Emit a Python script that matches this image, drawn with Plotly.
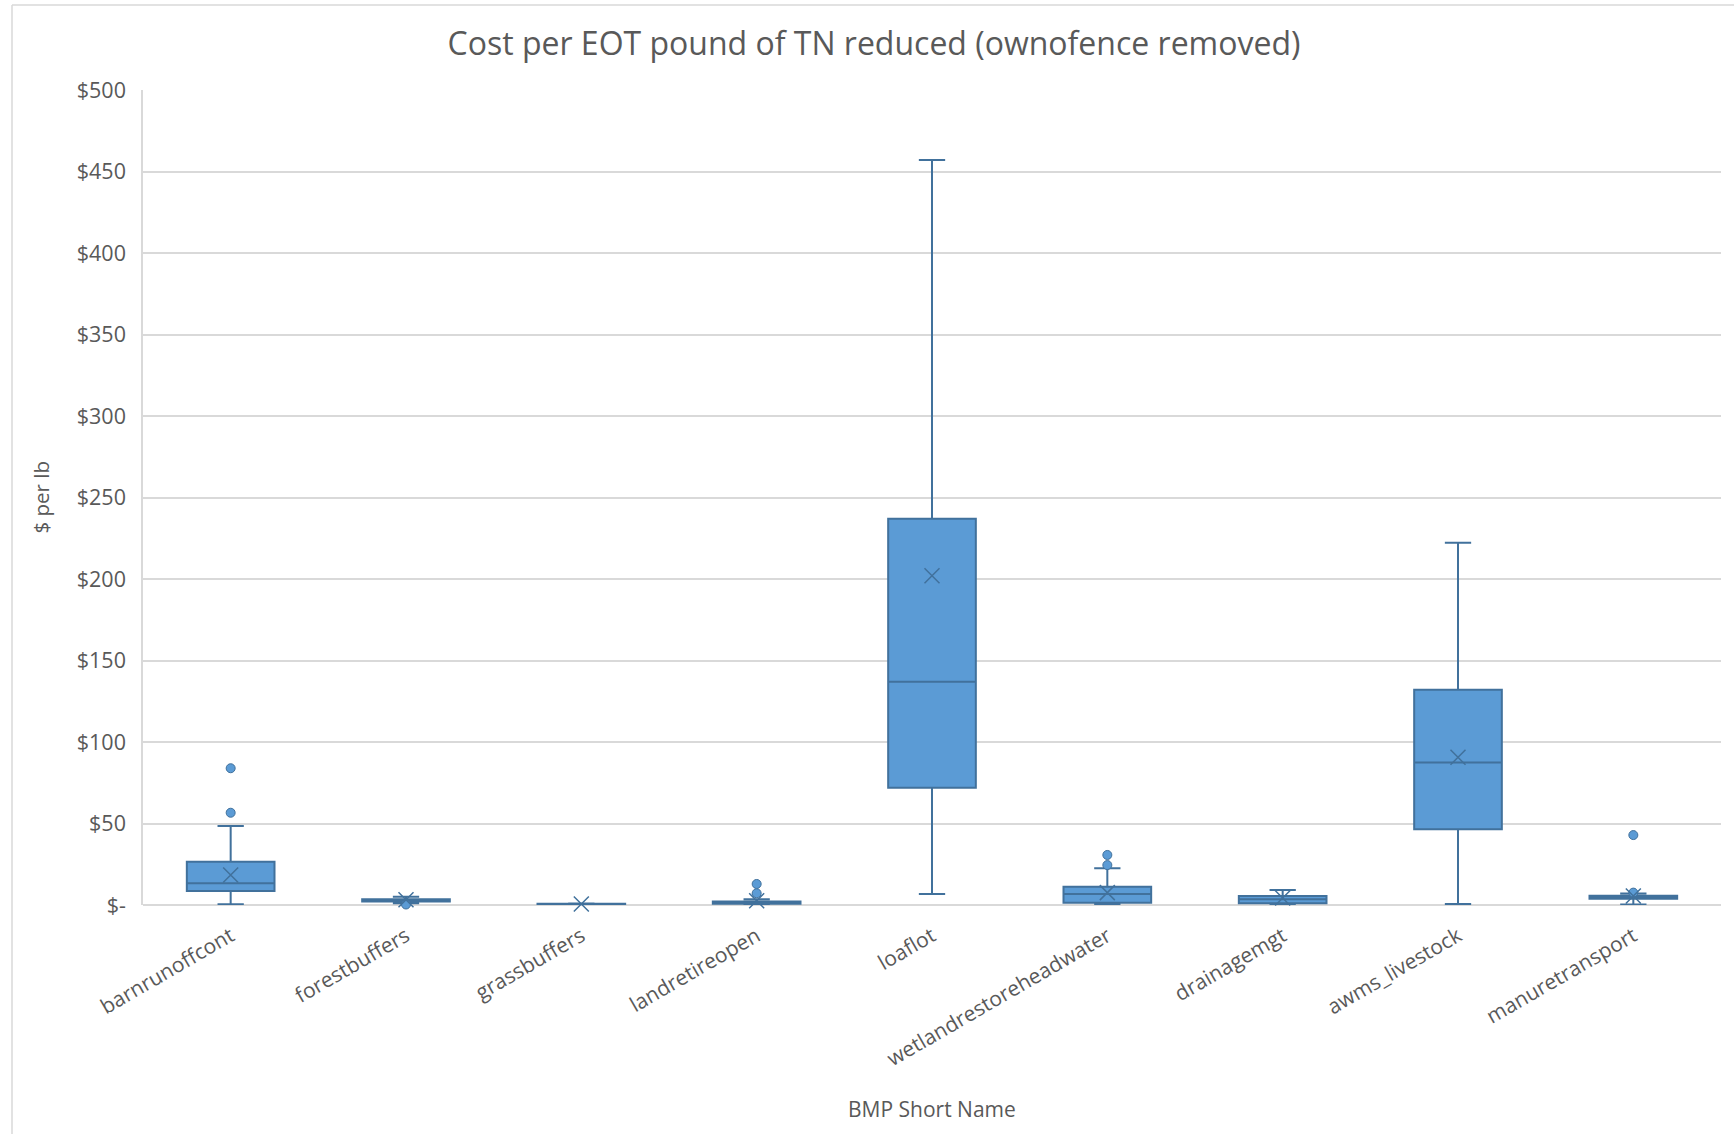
import plotly.graph_objects as go

# BMP categories and box statistics ($ per lb of TN reduced)
categories = [
    "barnrunoffcont", "forestbuffers", "grassbuffers", "landretireopen",
    "loaflot", "wetlandrestoreheadwater", "drainagemgt", "awms_livestock",
    "manuretransport",
]
lower_whisker = [0.5, 1.0, 0.3, 0.3, 6.7, 0.3, 0.5, 0.6, 0.3]
q1_values = [8.6, 2.2, 0.4, 0.8, 72.0, 1.4, 1.0, 46.4, 3.8]
median_values = [13.3, 2.8, 0.5, 1.4, 137.0, 6.7, 3.5, 87.5, 4.6]
q3_values = [26.6, 3.5, 0.7, 2.2, 237.0, 11.2, 5.5, 132.0, 5.6]
upper_whisker = [48.5, 5.0, 0.9, 3.5, 457.0, 22.5, 9.2, 222.3, 7.0]
mean_values = [18.4, 3.2, 0.6, 2.6, 202.0, 7.6, 4.3, 90.6, 5.5]

# Outlier points per category
outlier_category = [
    "barnrunoffcont", "barnrunoffcont",
    "forestbuffers",
    "landretireopen", "landretireopen",
    "wetlandrestoreheadwater", "wetlandrestoreheadwater",
    "manuretransport", "manuretransport",
]
outlier_values = [56.6, 83.9, 0.3, 7.2, 12.9, 24.5, 30.7, 7.6, 42.9]

# Y axis ticks (accounting-style labels)
y_tick_values = [0, 50, 100, 150, 200, 250, 300, 350, 400, 450, 500]
y_tick_labels = ["$-", "$50", "$100", "$150", "$200", "$250", "$300",
                 "$350", "$400", "$450", "$500"]

FILL = "#5B9BD5"
EDGE = "#41719C"
GRID = "#D9D9D9"
TEXT = "#595959"
FONT = "Open Sans"

W, H = 1734, 1134
L, R, T, B = 143, 13, 90, 229
plot_w = W - L - R
plot_h = H - T - B

fig = go.Figure()

fig.add_trace(go.Box(
    x=categories,
    lowerfence=lower_whisker,
    q1=q1_values,
    median=median_values,
    q3=q3_values,
    upperfence=upper_whisker,
    boxpoints=False,
    fillcolor=FILL,
    line=dict(color=EDGE, width=2),
    width=0.5,
    whiskerwidth=0.3,
    showlegend=False,
    hoverinfo="skip",
))

fig.add_trace(go.Scatter(
    x=outlier_category,
    y=outlier_values,
    mode="markers",
    marker=dict(symbol="circle", size=9, color=FILL,
                line=dict(color=EDGE, width=1)),
    cliponaxis=False,
    showlegend=False,
))

fig.add_trace(go.Scatter(
    x=categories,
    y=mean_values,
    mode="markers",
    marker=dict(symbol="x-thin", size=15,
                line=dict(color=EDGE, width=1.5)),
    cliponaxis=False,
    showlegend=False,
))


def px_x(px):
    return (px - L) / plot_w


def px_y(py):
    return (H - B - py) / plot_h


# Chart area border (left and top edges visible)
fig.add_shape(type="line", xref="paper", yref="paper",
              x0=px_x(12), x1=px_x(12), y0=px_y(5), y1=px_y(1140),
              line=dict(color=GRID, width=1.5), layer="below")
fig.add_shape(type="line", xref="paper", yref="paper",
              x0=px_x(12), x1=px_x(1745), y0=px_y(5), y1=px_y(5),
              line=dict(color=GRID, width=1.5), layer="below")

fig.update_layout(
    width=W, height=H,
    margin=dict(l=L, r=R, t=T, b=B, autoexpand=False),
    paper_bgcolor="white",
    plot_bgcolor="white",
    font=dict(family=FONT, color=TEXT, size=21),
    title=dict(
        text="Cost per EOT pound of TN reduced (ownofence removed)",
        x=874 / W, xref="container", xanchor="center",
        y=1 - 44 / H, yref="container", yanchor="middle",
        font=dict(family=FONT, size=32, color=TEXT),
    ),
    xaxis=dict(
        type="category",
        categoryorder="array",
        categoryarray=categories,
        range=[-0.5, len(categories) - 0.5],
        tickangle=-30,
        tickfont=dict(size=21, color=TEXT),
        ticklabelstandoff=14,
        showgrid=False,
        showline=False,
        ticks="",
        automargin=False,
    ),
    yaxis=dict(
        range=[0, 500],
        tickvals=y_tick_values,
        ticktext=y_tick_labels,
        tickfont=dict(size=21.5, color=TEXT),
        ticklabelstandoff=11,
        showgrid=True,
        gridcolor=GRID,
        gridwidth=1.5,
        showline=True,
        linecolor=GRID,
        linewidth=1.5,
        zeroline=True,
        zerolinecolor=GRID,
        zerolinewidth=1.5,
        ticks="",
        automargin=False,
    ),
    annotations=[
        dict(text="$ per lb", xref="paper", yref="paper",
             x=0, y=0.5, xshift=40 - L, textangle=-90,
             xanchor="center", yanchor="middle", showarrow=False,
             font=dict(family=FONT, size=20.5, color=TEXT)),
        dict(text="BMP Short Name", xref="paper", yref="paper",
             x=0.5, y=0, yshift=-(1109 - (H - B)),
             xanchor="center", yanchor="middle", showarrow=False,
             font=dict(family=FONT, size=21, color=TEXT)),
    ],
)

fig.write_html("out.html")
